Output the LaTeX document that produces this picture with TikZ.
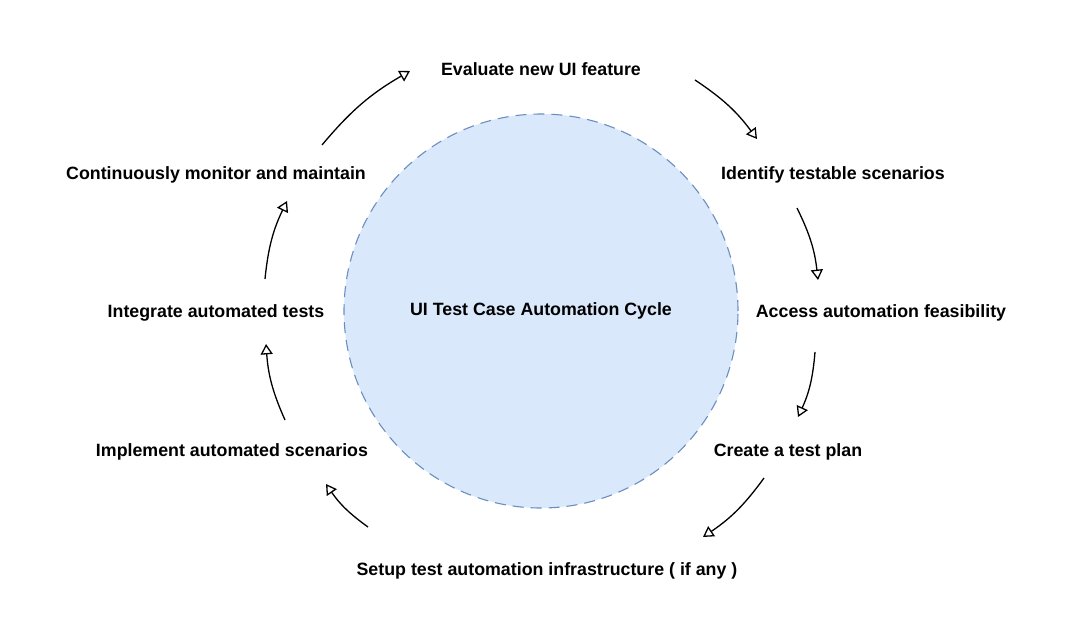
\documentclass[tikz,border=0pt]{standalone}
\usepackage{fontspec}
\setmainfont{Liberation Sans}
\usetikzlibrary{positioning, arrows.meta}
\definecolor{cyclefill}{HTML}{DAE8FC}
\definecolor{cycledraw}{HTML}{6C8EBF}

\begin{document}
\begin{tikzpicture}[
		x=1pt, y=-1pt,
		stepbox/.style={font=\bfseries\fontsize{17.8}{20}\selectfont, inner sep=0pt},
		cyclearrow/.style={-{Triangle[open, angle=60:12pt]}, line width=1.3pt, bend left=10},
	]
	\useasboundingbox (0,0) rectangle (1080,635);

	\node[circle, draw=cycledraw, fill=cyclefill, line width=1.1pt, dash pattern=on 11pt off 7pt,
		minimum size=394pt, stepbox] (cycle) at (541,311) {UI Test Case Automation Cycle};

	\node[stepbox] (evaluate) at (541,69) {Evaluate new UI feature};
	\node[stepbox] (identify) at (833,175) {Identify testable scenarios};
	\node[stepbox] (access) at (881,313) {Access automation feasibility};
	\node[stepbox] (plan) at (788,452) {Create a test plan};
	\node[stepbox] (setup) at (547,571) {Setup test automation infrastructure ( if any )};
	\node[stepbox] (implement) at (232,452) {Implement automated scenarios};
	\node[stepbox] (integrate) at (216,313) {Integrate automated tests};
	\node[stepbox] (monitor) at (216,175) {Continuously monitor and maintain};

	% arrow ends
	\coordinate (a1) at (322,145);  \coordinate (b1) at (410,71);
	\coordinate (a2) at (695,80);   \coordinate (b2) at (757,139);
	\coordinate (a3) at (797,208);  \coordinate (b3) at (818,280);
	\coordinate (a4) at (815,352);  \coordinate (b4) at (798,417);
	\coordinate (a5) at (764,478);  \coordinate (b5) at (703,537);
	\coordinate (a6) at (368,527);  \coordinate (b6) at (326,484);
	\coordinate (a7) at (285,420);  \coordinate (b7) at (266,344);
	\coordinate (a8) at (265,279);  \coordinate (b8) at (287,201);

	\foreach \i in {1,...,8}
		\draw[cyclearrow] (a\i) to (b\i);
\end{tikzpicture}
\end{document}
